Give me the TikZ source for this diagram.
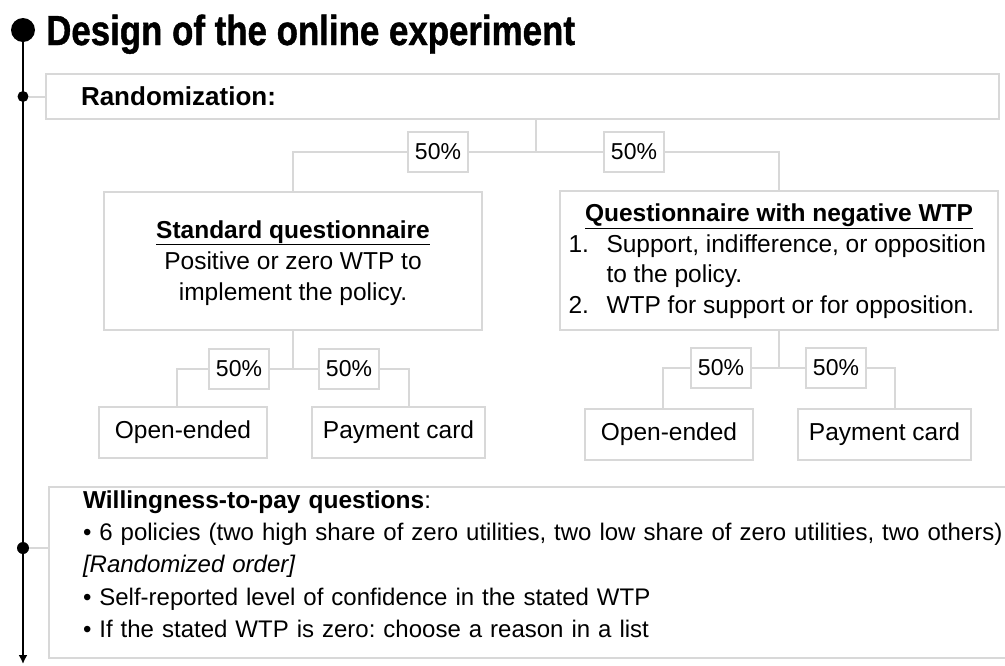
\documentclass[tikz,border=0pt]{standalone}
\usepackage{fontspec}
\setmainfont{Liberation Sans}
\newfontfamily\titlefont[FakeStretch=0.83,FakeBold=1]{Liberation Sans}
\usetikzlibrary{positioning}
\usetikzlibrary{calc}
\usetikzlibrary{arrows.meta}
\definecolor{boxgray}{RGB}{216,216,216}
\newcommand\numline[2]{\makebox[421pt][l]{\makebox[38pt][l]{#1}#2}}
\frenchspacing

\begin{document}
\begin{tikzpicture}[x=1pt,y=-1pt,
        box/.style={draw=boxgray, line width=2pt, rectangle, inner sep=0pt},
        pct/.style={box, minimum width=60pt, minimum height=40pt, font=\fontsize{23}{27}\selectfont},
        leaf/.style={box, minimum height=51pt, font=\fontsize{24.5}{29}\selectfont},
        link/.style={draw=boxgray, line width=2pt},
        dot/.style={circle, fill=black, inner sep=0pt}]
        \useasboundingbox (0,0) rectangle (1005,665);

        % nodes %
        \node[dot, minimum size=24pt] (d0) at (23,30) {};
        \node[anchor=base west, inner sep=0pt] (title) at (46,45) {\titlefont\bfseries\fontsize{42}{44}\selectfont Design of the online experiment};
        \node[box, anchor=north west, minimum width=953pt, minimum height=45pt, text width=883pt, inner xsep=35pt, align=left, font=\fontsize{26}{30}\selectfont\bfseries] (rand) at (45,73) {Randomization:};
        \node[dot, minimum size=11pt] (d1) at (d0 |- rand) {};

        \node[pct] (p1) at (438,152) {50\%};
        \node[pct] (p2) at (634,152) {50\%};
        \coordinate (s0) at ($(p1)!0.5!(p2)$);

        \node[box, minimum width=378pt, minimum height=138pt, text height=108pt, text depth=30pt, align=center, font=\fontsize{24.5}{31}\selectfont] (std) at (293,261) {\underline{\textbf{Standard questionnaire}}\\ Positive or zero WTP to\\ implement the policy.};
        \node[box, minimum width=438pt, minimum height=139pt, text height=122pt, text depth=17pt, align=center, font=\fontsize{24.5}{30.5}\selectfont] (neg) at (779,260.5) {\underline{\textbf{Questionnaire with negative WTP}}\\ \numline{1.}{Support, indifference, or opposition}\\ \numline{}{to the policy.}\\ \numline{2.}{WTP for support or for opposition.}};

        \node[pct] (p3) at (239,369) {50\%};
        \node[pct] (p4) at (349,369) {50\%};
        \node[pct] (p5) at (721,368) {50\%};
        \node[pct] (p6) at (836,368) {50\%};

        \node[leaf, minimum width=168pt] (oe1) at (183,432.5) {Open-ended};
        \node[leaf, minimum width=173pt] (pc1) at (398.5,432.5) {Payment card};
        \node[leaf, minimum width=168pt] (oe2) at (669,434) {Open-ended};
        \node[leaf, minimum width=173pt] (pc2) at (884.5,434) {Payment card};

        \node[box, anchor=north west, text width=960pt, inner xsep=34pt, inner ysep=2pt, text height=19pt, text depth=148pt, align=left, font=\fontsize{24}{32.4}\selectfont] (wtp) at (48,486) {\textbf{\fontsize{24.5}{32.4}\selectfont Willingness-to-pay questions}:\\ • 6 policies (two high share of zero utilities, two low share of zero utilities, two others)\\ \textit{[Randomized order]}\\ • Self-reported level of confidence in the stated WTP\\ • If the stated WTP is zero: choose a reason in a list};
        \node[dot, minimum size=12pt] (d2) at (23,548) {};
        \coordinate (tend) at (23,664);

        % edges %
        \draw[line width=2pt, -{Latex[length=9pt,width=9pt]}] (d0) -- (tend);
        \draw[link] (d1) -- (rand);
        \draw[link] (d2) -- (d2 -| wtp.west);

        \draw[link] (rand.south -| s0) -- (s0);
        \draw[link] (s0) -- (p1);
        \draw[link] (s0) -- (p2);
        \draw[link] (p1) -| (std);
        \draw[link] (p2) -| (neg);

        \draw[link] (std.south) -- (std.south |- p3);
        \draw[link] (p3) -- (p4);
        \draw[link] (p3) -| ([xshift=-6pt]oe1.north);
        \draw[link] (p4) -| ([xshift=10.5pt]pc1.north);

        \draw[link] (neg.south) -- (neg.south |- p5);
        \draw[link] (p5) -- (p6);
        \draw[link] (p5) -| ([xshift=-6pt]oe2.north);
        \draw[link] (p6) -| ([xshift=10.5pt]pc2.north);
      \end{tikzpicture}
\end{document}
